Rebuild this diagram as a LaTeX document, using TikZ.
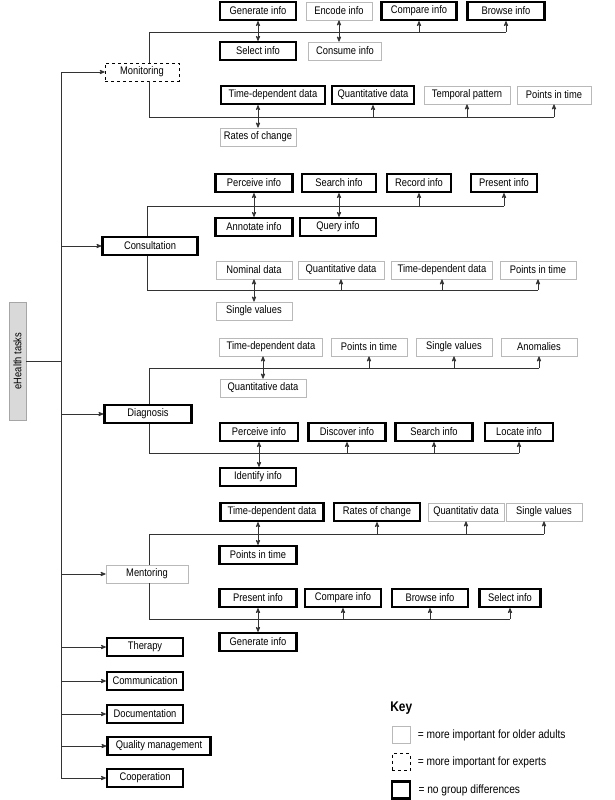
\documentclass[tikz,border=0pt]{standalone}
\usepackage{fontspec}
\setmainfont[FakeStretch=0.85]{Liberation Sans}
\usetikzlibrary{arrows,positioning,calc}

\tikzset{
  task/.style={minimum height=18, inner sep=0pt, font=\fontsize{11}{12}\selectfont},
  older/.style={task, draw=gray!55, line width=0.8pt},
  expert/.style={task, draw=black, dashed, line width=0.7pt},
  nodiff/.style={task, draw=black, line width=2.2pt},
  conn/.style={line width=0.8pt, draw=black!80},
}

\begin{document}
\begin{tikzpicture}[x=1pt,y=-1pt,>=stealth',conn]
    \useasboundingbox (0,0) rectangle (615,800);
    % root and trunk
    \node[task, draw=gray!70, fill=gray!30, rotate=90, minimum width=118, minimum height=17] (root) at (17.5,361) {eHealth tasks};
    \coordinate (trTop) at (61,72);
    \coordinate (trBot) at (61,778);
    \draw (root.south) -- (root.south -| trTop);
    \draw (trTop) -- (trBot);

    % Monitoring
    \node[expert, minimum width=74] (mon) at (142,72) {Monitoring};
    \node[nodiff, minimum width=76] (mGen) at (258,11) {Generate info};
    \node[older, minimum width=66] (mEnc) at (339,11) {Encode info};
    \node[nodiff, minimum width=75] (mCmp) at (419,11) {Compare info};
    \node[nodiff, minimum width=77] (mBrw) at (506,11) {Browse info};
    \node[nodiff, minimum width=76] (mSel) at (258,51) {Select info};
    \node[older, minimum width=73] (mCon) at (345,51) {Consume info};
    \node[nodiff, minimum width=104] (mTdd) at (273,95) {Time-dependent data};
    \node[nodiff, minimum width=82] (mQua) at (373,95) {Quantitative data};
    \node[older, minimum width=86] (mTmp) at (467,95) {Temporal pattern};
    \node[older, minimum width=74] (mPts) at (554,95) {Points in time};
    \node[older, minimum width=76] (mRat) at (258,137) {Rates of change};
    \coordinate (mL1) at (149,32);
    \coordinate (mL2) at (149,117);
    \draw ([xshift=7]mon.north) -- (mL1) -- (mL1 -| mBrw);
    \draw ([xshift=7]mon.south) -- (mL2) -- (mL2 -| mPts);
    \foreach \n in {mCmp,mBrw} \draw[->] (\n.south |- mL1) -- (\n.south);
    \foreach \n in {mQua,mTmp,mPts} \draw[->] (\n.south |- mL2) -- (\n.south);
    \draw[<->] (mGen.south) -- (mGen.south |- mSel.north);
    \draw[<->] (mEnc.south) -- (mEnc.south |- mCon.north);
    \draw[<->] (mTdd.south -| mRat) -- (mRat.north);

    % Consultation
    \node[nodiff, minimum width=95] (con) at (150,246) {Consultation};
    \node[nodiff, minimum width=77] (cPer) at (254,183) {Perceive info};
    \node[nodiff, minimum width=74] (cSea) at (339,183) {Search info};
    \node[nodiff, minimum width=64] (cRec) at (419,183) {Record info};
    \node[nodiff, minimum width=66] (cPre) at (504,183) {Present info};
    \node[nodiff, minimum width=77] (cAnn) at (254,227) {Annotate info};
    \node[nodiff, minimum width=76] (cQue) at (338,227) {Query info};
    \node[older, minimum width=76] (cNom) at (254,270) {Nominal data};
    \node[older, minimum width=86] (cQua) at (341,270) {Quantitative data};
    \node[older, minimum width=101] (cTdd) at (442,270) {Time-dependent data};
    \node[older, minimum width=76] (cPts) at (538,270) {Points in time};
    \node[older, minimum width=76] (cSin) at (254,311) {Single values};
    \coordinate (cL1) at (147,206);
    \coordinate (cL2) at (147,290);
    \draw (con.north -| cL1) -- (cL1) -- (cL1 -| cPre);
    \draw (con.south -| cL2) -- (cL2) -- (cL2 -| cPts);
    \foreach \n in {cRec,cPre} \draw[->] (\n.south |- cL1) -- (\n.south);
    \foreach \n in {cQua,cTdd,cPts} \draw[->] (\n.south |- cL2) -- (\n.south);
    \draw[<->] (cPer.south) -- (cPer.south |- cAnn.north);
    \draw[<->] (cSea.south) -- (cSea.south |- cQue.north);
    \draw[<->] (cNom.south) -- (cNom.south |- cSin.north);

    % Diagnosis
    \node[nodiff, minimum width=87] (dia) at (148,414) {Diagnosis};
    \node[older, minimum width=103] (dTdd) at (271,347) {Time-dependent data};
    \node[older, minimum width=76] (dPts) at (369,347) {Points in time};
    \node[older, minimum width=76] (dSin) at (454,347) {Single values};
    \node[older, minimum width=76] (dAno) at (539,347) {Anomalies};
    \node[older, minimum width=86] (dQua) at (263,388) {Quantitative data};
    \node[nodiff, minimum width=78] (dPer) at (259,432) {Perceive info};
    \node[nodiff, minimum width=77] (dDis) at (347,432) {Discover info};
    \node[nodiff, minimum width=77] (dSea) at (434,432) {Search info};
    \node[nodiff, minimum width=68] (dLoc) at (519,432) {Locate info};
    \node[nodiff, minimum width=76] (dIde) at (258,477) {Identify info};
    \coordinate (dL1) at (149,368);
    \coordinate (dL2) at (149,453);
    \draw (dia.north -| dL1) -- (dL1) -- (dL1 -| dAno);
    \draw (dia.south -| dL2) -- (dL2) -- (dL2 -| dLoc);
    \foreach \n in {dPts,dSin,dAno} \draw[->] (\n.south |- dL1) -- (\n.south);
    \foreach \n in {dDis,dSea,dLoc} \draw[->] (\n.south |- dL2) -- (\n.south);
    \draw[<->] (dTdd.south -| dQua) -- (dQua.north);
    \draw[<->] (dPer.south) -- (dPer.south |- dIde.north);

    % Mentoring
    \node[older, minimum width=82] (men) at (147,574) {Mentoring};
    \node[nodiff, minimum width=103] (eTdd) at (272,512) {Time-dependent data};
    \node[nodiff, minimum width=86] (eRat) at (377,512) {Rates of change};
    \node[older, minimum width=76] (eQua) at (466,512) {Quantitativ data};
    \node[older, minimum width=76] (eSin) at (544,512) {Single values};
    \node[nodiff, minimum width=77] (ePts) at (258,555) {Points in time};
    \node[nodiff, minimum width=77] (ePre) at (258,598) {Present info};
    \node[nodiff, minimum width=76] (eCmp) at (343,598) {Compare info};
    \node[nodiff, minimum width=76] (eBrw) at (430,598) {Browse info};
    \node[nodiff, minimum width=61] (eSel) at (510,598) {Select info};
    \node[nodiff, minimum width=77] (eGen) at (258,642) {Generate info};
    \coordinate (eL1) at (149,534);
    \coordinate (eL2) at (149,619);
    \draw (men.north -| eL1) -- (eL1) -- (eL1 -| eSin);
    \draw (men.south -| eL2) -- (eL2) -- (eL2 -| eSel);
    \foreach \n in {eRat,eQua,eSin} \draw[->] (\n.south |- eL1) -- (\n.south);
    \foreach \n in {eCmp,eBrw,eSel} \draw[->] (\n.south |- eL2) -- (\n.south);
    \draw[<->] (eTdd.south -| ePts) -- (ePts.north);
    \draw[<->] (ePre.south) -- (ePre.south |- eGen.north);

    % remaining tasks
    \node[nodiff, minimum width=76] (the) at (145,647) {Therapy};
    \node[nodiff, minimum width=76] (com) at (145,681) {Communication};
    \node[nodiff, minimum width=76] (doc) at (145,714) {Documentation};
    \node[nodiff, minimum width=103] (qua) at (159,746) {Quality management};
    \node[nodiff, minimum width=76] (coo) at (145,778) {Cooperation};
    \foreach \n in {mon,con,dia,men,the,com,doc,qua,coo} \draw[->] (\n.west -| trTop) -- (\n.west);

    % key
    \node[anchor=west, font=\fontsize{14}{16}\selectfont\bfseries, inner sep=0pt] (key) at (390,708) {Key};
    \node[older, minimum width=18, minimum height=17] (k1) at (401,735) {};
    \node[expert, minimum width=18, minimum height=17] (k2) at (401,762) {};
    \node[nodiff, minimum width=18, minimum height=17] (k3) at (401,790) {};
    \foreach \k/\t in {k1/more important for older adults,k2/more important for experts,k3/no group differences}
      \node[anchor=west, font=\fontsize{12}{14}\selectfont, inner sep=0pt] at ([xshift=7]\k.east) {= \t};
\end{tikzpicture}
\end{document}
